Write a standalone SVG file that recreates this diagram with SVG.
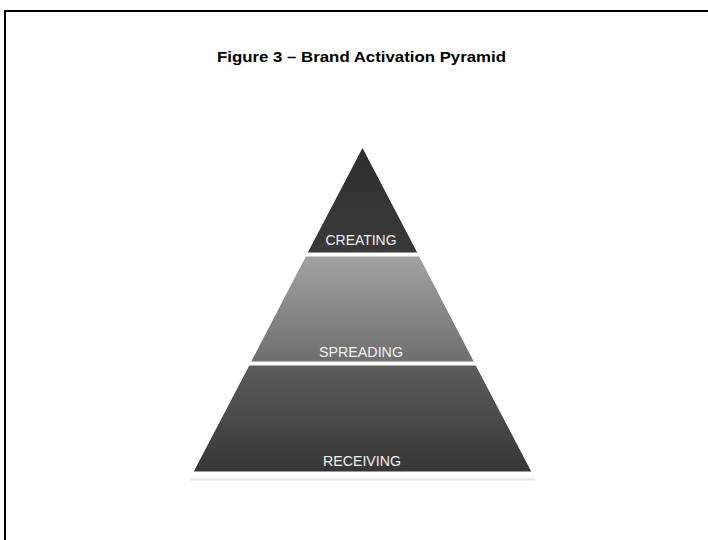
<svg xmlns="http://www.w3.org/2000/svg" width="708" height="540" viewBox="0 0 708 540">
<defs>
<linearGradient id="gTop" x1="0" y1="0" x2="0" y2="1"><stop offset="0" stop-color="#2e2e2e"/><stop offset="1" stop-color="#3a3a3a"/></linearGradient>
<linearGradient id="gMid" x1="0" y1="0" x2="0" y2="1"><stop offset="0" stop-color="#a2a2a2"/><stop offset="1" stop-color="#6e6e6e"/></linearGradient>
<linearGradient id="gBot" x1="0" y1="0" x2="0" y2="1"><stop offset="0" stop-color="#5c5c5c"/><stop offset="1" stop-color="#363636"/></linearGradient>
<style>
.tier{stroke:#ffffff;stroke-width:1}
.lbl{font-family:"Liberation Sans","Open Sans",sans-serif;font-size:14.5px;fill:#f0f0f0;text-anchor:middle}
.title{font-family:"Liberation Sans",Arial,sans-serif;font-size:14px;font-weight:bold;fill:#000;text-anchor:middle}
</style>
</defs>
<rect x="0" y="0" width="708" height="540" fill="#ffffff"/>
<rect x="5" y="11" width="720" height="560" fill="none" stroke="#000" stroke-width="2"/>
<text class="title" x="361.5" y="62" textLength="289" lengthAdjust="spacingAndGlyphs">Figure 3 – Brand Activation Pyramid</text>
<g id="receiving">
<polygon class="tier" points="249,365 476,365 532,472 193,472" fill="url(#gBot)"/>
<text class="lbl" x="362" y="466" textLength="78" lengthAdjust="spacingAndGlyphs">RECEIVING</text>
</g>
<g id="spreading">
<polygon class="tier" points="305.6,256 419.4,256 474.5,362 250.5,362" fill="url(#gMid)"/>
<text class="lbl" x="361" y="357" textLength="84" lengthAdjust="spacingAndGlyphs">SPREADING</text>
</g>
<g id="creating">
<polygon class="tier" points="362.5,147 418,253 307,253" fill="url(#gTop)"/>
<text class="lbl" x="361" y="245" textLength="71" lengthAdjust="spacingAndGlyphs">CREATING</text>
</g>
<line x1="190" y1="479.5" x2="535" y2="479.5" stroke="#e4e4e4" stroke-width="2"/>
<g id="connectors"/>
</svg>
